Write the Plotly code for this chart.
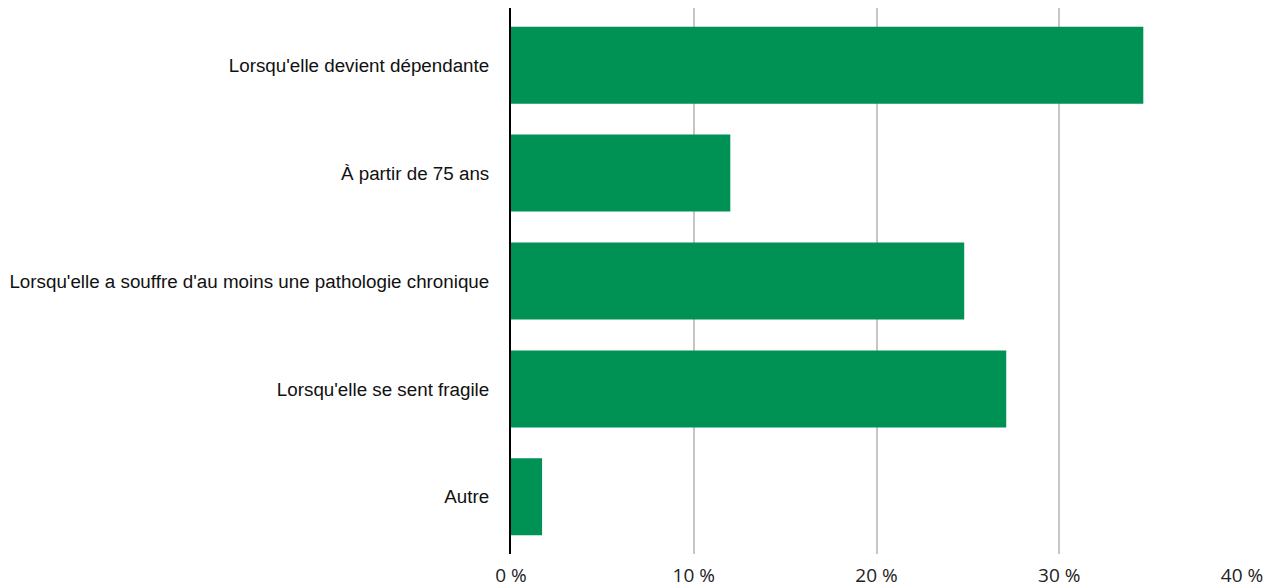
import plotly.graph_objects as go

categories = [
    "Lorsqu'elle devient dépendante",
    "À partir de 75 ans",
    "Lorsqu'elle a souffre d'au moins une pathologie chronique",
    "Lorsqu'elle se sent fragile",
    "Autre",
]
values = [34.6, 12.0, 24.8, 27.1, 1.7]
tick_vals = [0, 10, 20, 30, 40]
tick_text = ["0 %", "10 %", "20 %", "30 %", "40 %"]

fig = go.Figure(go.Bar(
    x=values, y=categories, orientation="h",
    marker=dict(color="#009154", line=dict(width=0)),
    hoverinfo="x+y",
))

fig.update_layout(
    width=1272, height=587,
    margin=dict(l=511, r=30, t=8, b=33),
    plot_bgcolor="white", paper_bgcolor="white",
    bargap=0.286,
    showlegend=False,
    font=dict(family="Liberation Sans, Arial, sans-serif", color="#1a1a1a", size=18),
)
fig.update_xaxes(
    range=[0, 40], tickvals=tick_vals, ticktext=tick_text,
    showgrid=True, gridcolor="#c6c6c6", gridwidth=2,
    zeroline=False, showline=False, automargin=False,
    tickfont=dict(family="Open Sans, Liberation Sans, sans-serif", size=19, color="#222"),
    ticklabelstandoff=8,
)
fig.update_yaxes(
    categoryorder="array", categoryarray=categories[::-1],
    range=[-0.53, 4.53], automargin=False,
    showline=True, linecolor="black", linewidth=2,
    showgrid=False, ticks="", ticklabelstandoff=16,
    tickfont=dict(family="Liberation Sans, Arial, sans-serif", size=18.8, color="#111"),
)

fig.write_html("out.html")
